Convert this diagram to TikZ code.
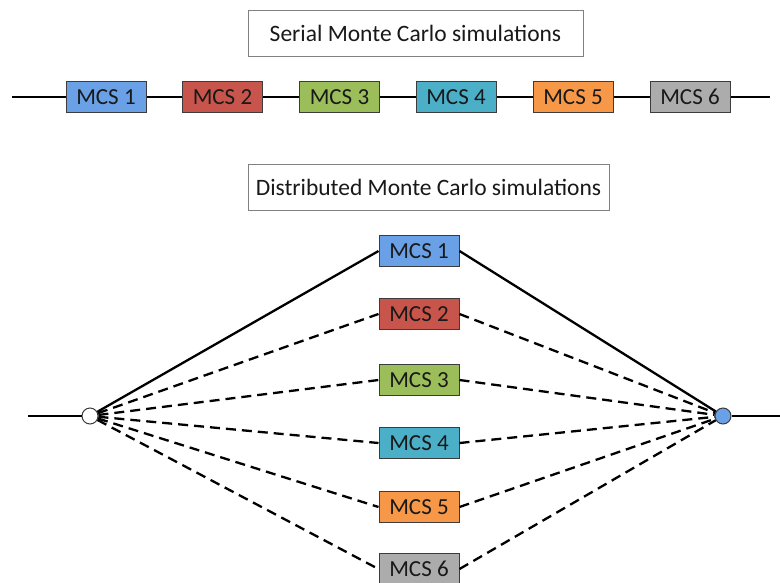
\documentclass[tikz,border=0pt]{standalone}
\usepackage{fontspec}
\setmainfont{Carlito}
\definecolor{mblue}{RGB}{105,160,230}
\definecolor{mbluetop}{RGB}{150,195,245}
\definecolor{mred}{RGB}{200,85,75}
\definecolor{mgreen}{RGB}{155,190,90}
\definecolor{mteal}{RGB}{75,175,200}
\definecolor{morange}{RGB}{247,152,72}
\definecolor{mgray}{RGB}{172,172,172}
\definecolor{edge}{RGB}{60,60,60}
\definecolor{txt}{RGB}{25,25,25}
\begin{document}
\begin{tikzpicture}[x=1pt,y=-1pt,
  mcs/.style={draw=edge, line width=1pt, minimum width=80pt, minimum height=31pt, inner sep=0pt, text=txt, font=\fontsize{23}{25}\selectfont},
  title/.style={draw=gray, line width=0.9pt, fill=white, minimum height=46pt, inner sep=0pt, text=txt, font=\fontsize{23.5}{25}\selectfont},
  wire/.style={line width=2.3pt, black},
  dwire/.style={line width=2.3pt, black, dash pattern=on 10pt off 6pt},
  dot/.style={circle, draw=edge, line width=1pt, minimum size=16pt, inner sep=0pt}]
\useasboundingbox (0,0) rectangle (780,582);
% titles
\node[title, minimum width=335pt] (t1) at (415.5,33) {Serial Monte Carlo simulations};
\node[title, minimum width=361pt] (t2) at (428.5,187) {Distributed Monte Carlo simulations};
% serial
\coordinate (sl) at (12,97);
\coordinate (sr) at (770,97);
\draw[wire] (sl) -- (sr);
\node[mcs, fill=mblue] (s1) at (106,97) {MCS 1};
\node[mcs, fill=mred] (s2) at (222.5,97) {MCS 2};
\node[mcs, fill=mgreen] (s3) at (339.5,97) {MCS 3};
\node[mcs, fill=mteal] (s4) at (456,97) {MCS 4};
\node[mcs, fill=morange] (s5) at (573,97) {MCS 5};
\node[mcs, fill=mgray] (s6) at (690,97) {MCS 6};
% distributed
\node[dot, fill=white] (L) at (90,416) {};
\node[dot, fill=mblue] (R) at (723,416) {};
\coordinate (ll) at (28,416);
\coordinate (rr) at (780,416);
\draw[wire] (ll) -- (L);
\draw[wire] (R) -- (rr);
\node[mcs, fill=mblue] (d1) at (419,251) {MCS 1};
\node[mcs, fill=mred] (d2) at (419,314) {MCS 2};
\node[mcs, fill=mgreen] (d3) at (419,380) {MCS 3};
\node[mcs, fill=mteal] (d4) at (419,443) {MCS 4};
\node[mcs, fill=morange] (d5) at (419,507) {MCS 5};
\node[mcs, fill=mgray] (d6) at (419,569) {MCS 6};
\draw[wire] (L) -- (d1.west);
\draw[wire] (d1.east) -- (R);
\foreach \i in {2,...,6}{
  \draw[dwire] (L) -- (d\i.west);
  \draw[dwire] (d\i.east) -- (R);
}
\end{tikzpicture}
\end{document}
